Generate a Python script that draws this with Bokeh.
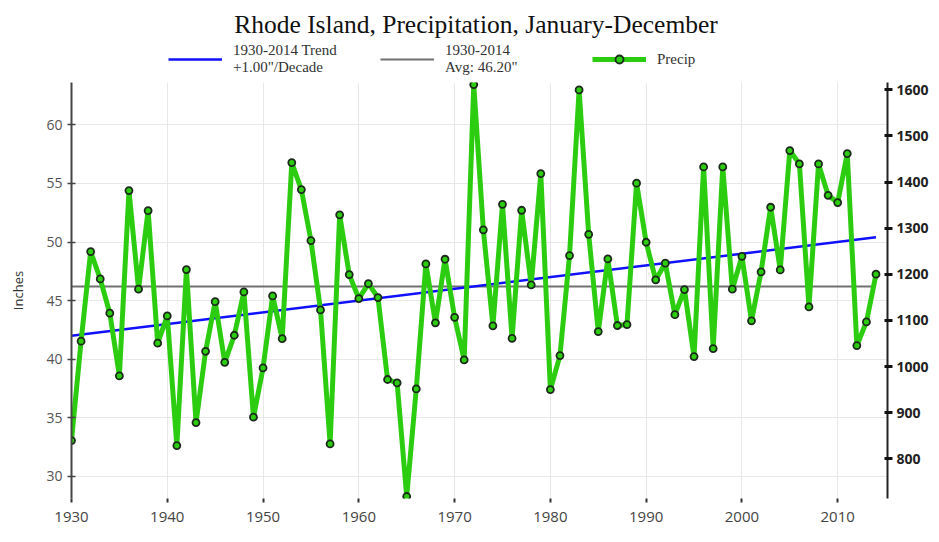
from bokeh.plotting import figure
from bokeh.layouts import column
from bokeh.models import Range1d, LinearAxis, Legend, LegendItem, FixedTicker, Label
from bokeh.embed import file_html
from bokeh.resources import INLINE

# ---- data ----
years = list(range(1930, 2015))
precip = [33.05, 41.53, 49.18, 46.85, 43.92, 38.57, 54.39, 45.97, 52.68, 41.36,
          43.69, 32.62, 47.65, 34.58, 40.67, 44.91, 39.73, 42.04, 45.74, 35.04,
          39.25, 45.40, 41.75, 56.78, 54.48, 50.12, 44.20, 32.76, 52.32, 47.22,
          45.17, 46.45, 45.26, 38.26, 37.97, 28.27, 37.46, 48.13, 43.10, 48.53,
          43.57, 39.93, 63.44, 51.04, 42.84, 53.22, 41.78, 52.71, 46.34, 55.84,
          37.40, 40.30, 48.84, 62.99, 50.66, 42.35, 48.56, 42.87, 42.95, 55.02,
          49.98, 46.77, 48.19, 43.80, 45.94, 40.22, 56.41, 40.90, 56.41, 45.97,
          48.78, 43.27, 47.45, 52.97, 47.62, 57.81, 56.67, 44.46, 56.67, 53.99,
          53.37, 57.55, 41.16, 43.18, 47.25]
trend_years = [1930, 2014]
trend_values = [42.0, 50.4]
avg_years = [1930, 2014]
avg_values = [46.20, 46.20]

x_ticks = [1930, 1940, 1950, 1960, 1970, 1980, 1990, 2000, 2010]
inch_ticks = [30, 35, 40, 45, 50, 55, 60]
mm_ticks = [800, 900, 1000, 1100, 1200, 1300, 1400, 1500, 1600]

title_text = "Rhode Island, Precipitation, January-December"
trend_label = "1930-2014 Trend\n+1.00\"/Decade"
avg_label = "1930-2014\nAvg: 46.20\""
precip_label = "Precip"

y_lo, y_hi = 28.1, 63.62
MM_PER_INCH = 25.4

# styles shared by series and legend keys
TREND_STYLE = dict(line_color="#1010ff", line_width=2.5)
AVG_STYLE = dict(line_color="#707070", line_width=2)
PRECIP_LINE_STYLE = dict(line_color="#2ccc10", line_width=5)
PRECIP_PT_STYLE = dict(marker="circle", size=7, fill_color="#2ccc10",
                       line_color="#1c2a1c", line_width=1.8)

W = 931
HEAD_H = 78
MAIN_H = 456

# ---------- header: title + legend (a frame that spans the whole header) ----------
head = figure(width=W, height=HEAD_H, output_backend="svg", toolbar_location=None,
              title=None, x_axis_type=None, y_axis_type=None,
              x_range=Range1d(0, 1), y_range=Range1d(0, 1),
              min_border_left=71, min_border_right=43, min_border_top=0,
              min_border_bottom=0)
head.outline_line_color = None

head.add_layout(Label(x=0.4957, y=54, x_units="data", y_units="screen",
                      text=title_text, text_font="Liberation Serif",
                      text_font_size="25.5px", text_color="#111111",
                      text_align="center", text_baseline="alphabetic"))

# legend keys (the same series, lying outside the header's ranges)
k_trend = head.line(trend_years, trend_values, **TREND_STYLE)
k_avg = head.line(avg_years, avg_values, **AVG_STYLE)
k_pl = head.line(years, precip, **PRECIP_LINE_STYLE)
k_pp = head.scatter(years, precip, **PRECIP_PT_STYLE)

legend = Legend(items=[
    LegendItem(label=trend_label, renderers=[k_trend]),
    LegendItem(label=avg_label, renderers=[k_avg]),
    LegendItem(label=precip_label, renderers=[k_pl, k_pp]),
], orientation="horizontal", location=(97, 2), glyph_width=54,
    glyph_height=20, label_standoff=11, label_width=147, spacing=0,
    padding=0, margin=0, border_line_color=None, background_fill_alpha=0,
    label_text_font="Liberation Serif", label_text_font_size="15px",
    label_text_color="#333333")
head.add_layout(legend, "center")

# ---------- main chart ----------
p = figure(width=W, height=MAIN_H, output_backend="svg", toolbar_location=None,
           title=None,
           x_range=Range1d(1930, 2015.2), y_range=Range1d(y_lo, y_hi),
           min_border_left=71, min_border_right=43, min_border_top=4,
           min_border_bottom=36)
p.outline_line_color = None
p.background_fill_color = "white"

p.extra_y_ranges = {"mm": Range1d(y_lo * MM_PER_INCH, y_hi * MM_PER_INCH)}

p.xgrid.grid_line_color = "#e8e8e8"
p.ygrid.grid_line_color = "#e8e8e8"

xa = p.xaxis[0]
xa.ticker = FixedTicker(ticks=x_ticks)
xa.axis_line_color = None
xa.major_tick_in = 0
xa.major_tick_out = 4
xa.major_tick_line_width = 2
xa.major_tick_line_color = "#333333"
xa.minor_tick_line_color = None
xa.major_label_text_font = "Open Sans"
xa.major_label_text_font_size = "15px"
xa.major_label_text_color = "#444444"
xa.major_label_standoff = 9

ya = p.yaxis[0]
ya.ticker = FixedTicker(ticks=inch_ticks)
ya.axis_line_color = "#444444"
ya.axis_line_width = 2
ya.major_tick_in = 4
ya.major_tick_out = 4
ya.major_tick_line_color = "#444444"
ya.major_tick_line_width = 1.5
ya.minor_tick_line_color = None
ya.major_label_text_font = "Open Sans"
ya.major_label_text_font_size = "14px"
ya.major_label_text_color = "#555555"
ya.axis_label = "Inches"
ya.axis_label_text_font = "Open Sans"
ya.axis_label_text_font_size = "13px"
ya.axis_label_text_font_style = "normal"
ya.axis_label_text_color = "#333333"
ya.axis_label_standoff = 16

ra = LinearAxis(y_range_name="mm", ticker=FixedTicker(ticks=mm_ticks))
ra.axis_line_color = "#222222"
ra.axis_line_width = 2
ra.major_tick_in = 3
ra.major_tick_out = 5
ra.major_tick_line_width = 3
ra.major_tick_line_color = "#111111"
ra.minor_tick_line_color = None
ra.major_label_text_font = "Open Sans"
ra.major_label_text_font_size = "14px"
ra.major_label_text_font_style = "bold"
ra.major_label_text_color = "#222222"
ra.major_label_standoff = 4
p.add_layout(ra, "right")

p.line(avg_years, avg_values, **AVG_STYLE)
p.line(trend_years, trend_values, **TREND_STYLE)
p.line(years, precip, **PRECIP_LINE_STYLE)
p.scatter(years, precip, **PRECIP_PT_STYLE)

layout = column(head, p, spacing=0)
open("out.html", "w").write(file_html(layout, INLINE))
